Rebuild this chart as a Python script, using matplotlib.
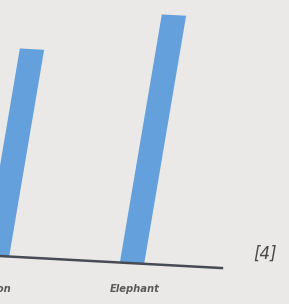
import matplotlib.pyplot as plt
from matplotlib.transforms import Affine2D

# bar chart photographed from an exam paper (only the right part is visible)
animals = ["Lion", "Elephant"]
values = [25, 30]
mark_label = "[4]"

BG = '#ebe9e7'
BAR = '#64a0dc'
AXIS = '#474b54'
TEXT = '#5a5a5a'

fig = plt.figure(figsize=(2.89, 3.04), dpi=100)
fig.patch.set_facecolor(BG)
ax = fig.add_axes([0, 0, 1, 1])
ax.set_facecolor(BG)
ax.set_xlim(0.022, 2.163)
ax.set_ylim(-5.8, 30.96)
ax.axis('off')

# perspective of the photo: bars lean right, baseline drops to the right
skew = Affine2D().translate(0, -48).skew_deg(9.6, -3.1).translate(0, 48)

bars = ax.bar(range(len(animals)), values, width=0.18, color=BAR)
for b in bars:
    b.set_transform(ax.transData + skew)

base = ax.axhline(0, xmin=0, xmax=0.768, color=AXIS, lw=1.8)
base.set_transform(base.get_transform() + skew)

for i, name in enumerate(animals):
    ax.annotate(name, xy=(i, 0), xytext=(2, -24), textcoords='offset points',
                ha='center', va='center', fontsize=7.2, style='italic',
                fontweight='bold', color=TEXT, annotation_clip=False)

fig.text(265 / 289, 1 - 254 / 304, mark_label, ha='center', va='center',
         fontsize=12, style='italic', color='#4a4a4a')

plt.savefig('out.png', dpi=100, facecolor=BG)
